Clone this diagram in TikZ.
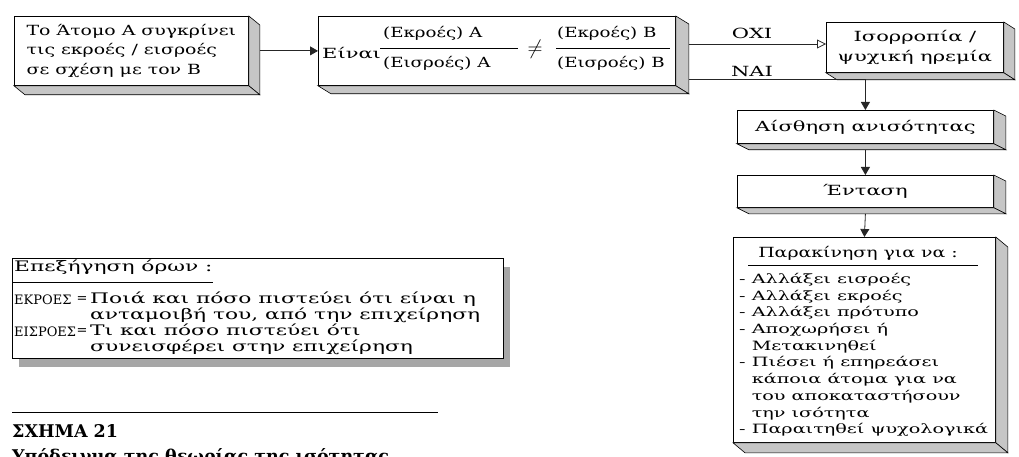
\documentclass[tikz,border=0pt]{standalone}
\usepackage{fontspec}
\setmainfont{DejaVu Serif}[FakeStretch=1.5]
\newfontfamily\midfont{DejaVu Serif}[FakeStretch=1.35]
\newfontfamily\fracfont{DejaVu Serif}[FakeStretch=1.3]
\newfontfamily\capsfont{DejaVu Serif}
\usetikzlibrary{arrows.meta,calc,shadows}

\newcommand\mainsize{\fontsize{14}{19.5}\selectfont}
\newcommand\titlesize{\midfont\fontsize{14}{19.5}\selectfont}
\newcommand\listsize{\fontsize{12.8}{16.7}\selectfont}
\newcommand\legsize{\fontsize{14.5}{15.7}\selectfont}
\newcommand\keysize{\capsfont\fontsize{13}{15.7}\selectfont}
\newcommand\capsize{\capsfont\fontsize{17.5}{22}\selectfont\bfseries}

% right and bottom faces of a raised box
\newcommand\extrude[3]{%
  \filldraw[face] (#1.north east) -- ++(#2,#3) -- ($(#1.south east)+(#2,#3)$) -- (#1.south east) -- cycle;
  \filldraw[face] (#1.south west) -- ($(#1.south west)+(#2,#3)$) -- ($(#1.south east)+(#2,#3)$) -- (#1.south east) -- cycle;
}

\tikzset{
  box/.style={draw=black, line width=0.8pt, fill=white, inner sep=3pt, anchor=north west, font=\mainsize},
  face/.style={draw=black, line width=0.6pt, fill=gray!45},
  conn/.style={draw=black!85, line width=0.8pt},
  tipfill/.style={-{Triangle[length=8pt,width=9pt]}},
  tipopen/.style={-{Triangle[open,length=9pt,width=9pt]}},
  txt/.style={inner sep=0pt, font=\mainsize},
  ftxt/.style={inner sep=0pt, anchor=west, font=\fracfont\mainsize},
}

\begin{document}
\begin{tikzpicture}[x=1pt,y=-1pt]
\useasboundingbox (0,0) rectangle (1019,457);
\clip (0,0) rectangle (1019,457);

% ---- top row ----
\node[box, minimum width=234pt, minimum height=69pt, align=left, font=\titlesize] (atomo) at (14,16)
  {Το Άτομο Α συγκρίνει\\τις εκροές / εισροές\\σε σχέση με τον Β};
\extrude{atomo}{11}{9}

\node[box, minimum width=357pt, minimum height=69pt] (sygk) at (318,16) {};
\extrude{sygk}{13}{8}
\node[txt, anchor=west] (einai) at (322,53) {Είναι};
\node[ftxt] (numA) at (383,33) {(Εκροές) Α};
\node[ftxt] (denA) at (383,63) {(Εισροές) Α};
\node[txt, font=\fontsize{20}{20}\selectfont] (neq) at (535,49) {$\neq$};
\node[ftxt] (numB) at (557,33) {(Εκροές) Β};
\node[ftxt] (denB) at (557,63) {(Εισροές) Β};
\draw[line width=0.8pt] (380,48) -- (518,48);
\draw[line width=0.8pt] (556,48) -- (670,48);

\node[box, minimum width=177pt, minimum height=50pt, align=center] (isor) at (826,22)
  {Ισορροπία /\\ψυχική ηρεμία};
\extrude{isor}{11}{7}

% ---- right column ----
\node[box, minimum width=256pt, minimum height=33pt] (aisth) at (737,110) {Αίσθηση ανισότητας};
\extrude{aisth}{12}{6}

\node[box, minimum width=256pt, minimum height=32pt] (entasi) at (737,175) {Ένταση};
\extrude{entasi}{12}{6}

\node[box, minimum width=262pt, minimum height=205pt] (parak) at (733,237) {};
\extrude{parak}{12}{10}
\node[inner sep=0pt, font=\titlesize] (parakT) at (858,253) {Παρακίνηση για να :};
\draw[line width=0.8pt] (748,265) -- (978,265);
\node[inner sep=0pt, anchor=north west, align=left, font=\listsize] (parakL) at (739,273)
  {- Αλλάξει εισροές\\
   - Αλλάξει εκροές\\
   - Αλλάξει πρότυπο\\
   - Αποχωρήσει ή\\
   \phantom{- }Μετακινηθεί\\
   - Πιέσει ή επηρεάσει\\
   \phantom{- }κάποια άτομα για να\\
   \phantom{- }του αποκαταστήσουν\\
   \phantom{- }την ισότητα\\
   - Παραιτηθεί ψυχολογικά};

% ---- connectors ----
\draw[conn, tipfill] ($(atomo.east)+(11,0)$) -- (sygk.west);
\coordinate (oxiS) at ($(sygk.north east)+(13,28)$);
\coordinate (naiS) at ($(sygk.south east)+(13,-6)$);
\draw[conn, tipopen] (oxiS) -- (oxiS -| isor.west);
\draw[conn, tipfill] (naiS) -| (aisth.north);
\node[txt] (oxi) at (752,33) {ΟΧΙ};
\node[txt] (nai) at (752,71) {ΝΑΙ};
\draw[conn, tipfill] ([yshift=-6pt]aisth.south) -- (entasi.north);
\draw[conn, tipfill] ([yshift=-6pt]entasi.south) -- (parak.north);

% ---- legend ----
\node[draw=black, line width=0.8pt, fill=white, anchor=north west,
      minimum width=491pt, minimum height=100pt,
      drop shadow={shadow xshift=7pt, shadow yshift=-9pt, fill=gray!70, opacity=1}] (legend) at (12,258) {};
\node[inner sep=0pt, anchor=west, font=\legsize] (legT) at (14,267) {Επεξήγηση όρων :};
\draw[line width=0.8pt] (12,282) -- (213,282);
\node[inner sep=0pt, anchor=west, font=\keysize] (kEk) at (14,300) {ΕΚΡΟΕΣ};
\node[inner sep=0pt, anchor=west, font=\keysize] (kEis) at (14,332) {ΕΙΣΡΟΕΣ};
\node[inner sep=0pt, font=\keysize] (eq1) at (82,300) {=};
\node[inner sep=0pt, font=\keysize] (eq2) at (82,332) {=};
\node[inner sep=0pt, anchor=north west, align=left, font=\legsize] (dEk) at (90,292)
  {Ποιά και πόσο πιστεύει ότι είναι η\\ανταμοιβή του, από την επιχείρηση};
\node[inner sep=0pt, anchor=north west, align=left, font=\legsize] (dEis) at (90,324)
  {Τι και πόσο πιστεύει ότι\\συνεισφέρει στην επιχείρηση};

% ---- caption ----
\draw[line width=0.8pt] (12,412) -- (438,412);
\node[inner sep=0pt, anchor=base west, font=\capsize] (capN) at (12,437) {ΣΧΗΜΑ 21};
\node[inner sep=0pt, anchor=base west, font=\capsize] (capT) at (12,462) {Υπόδειγμα της θεωρίας της ισότητας};
\end{tikzpicture}
\end{document}
